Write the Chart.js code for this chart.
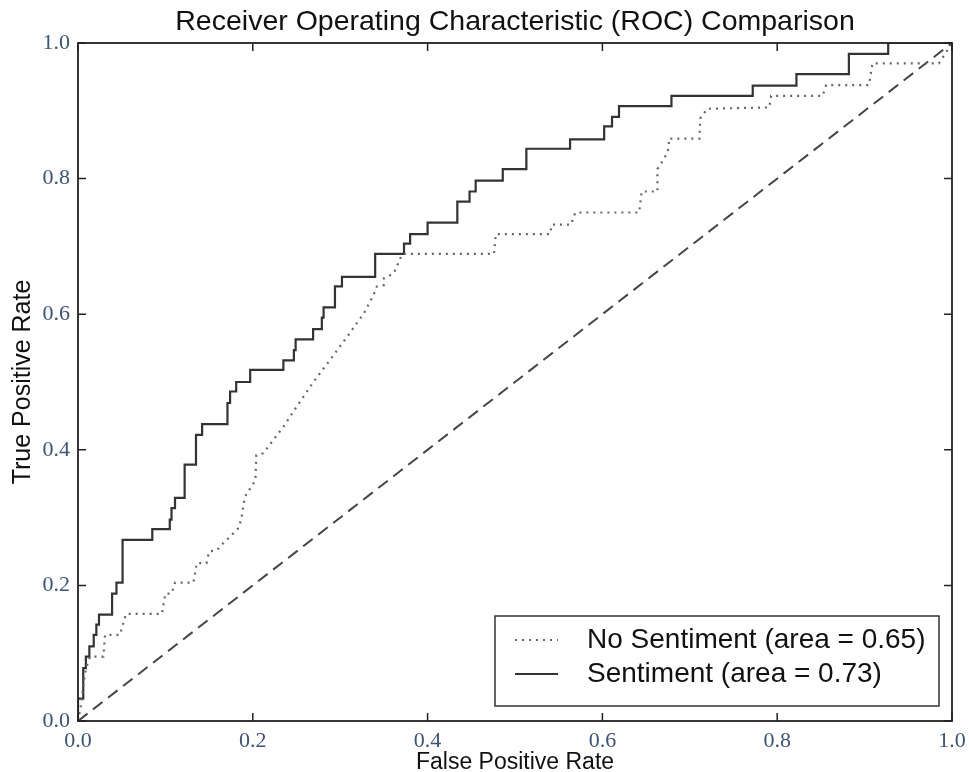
<!DOCTYPE html>
<html>
<head>
<meta charset="utf-8">
<script src="https://cdn.jsdelivr.net/npm/chart.js@4.4.0/dist/chart.umd.min.js"></script>
<style>
  body { margin: 0; background: #fff; }
  #wrap { width: 969px; height: 772px; }
</style>
</head>
<body>
<div id="wrap"><canvas id="rocChart" width="969" height="772"></canvas></div>
<script>
// ROC data
const sentFpr = [0, 0, 0.006, 0.009, 0.013, 0.018, 0.021, 0.024, 0.039, 0.044,
  0.051, 0.085, 0.105, 0.107, 0.111, 0.122, 0.135, 0.142, 0.171, 0.174,
  0.181, 0.197, 0.235, 0.247, 0.249, 0.269, 0.279, 0.281, 0.294, 0.302,
  0.340, 0.373, 0.380, 0.400, 0.434, 0.448, 0.455, 0.486, 0.513, 0.563,
  0.602, 0.611, 0.619, 0.679, 0.772, 0.822, 0.882, 0.927, 1.0];
const sentTpr = [0, 0.033, 0.078, 0.095, 0.110, 0.127, 0.142, 0.157, 0.188, 0.204,
  0.267, 0.283, 0.297, 0.314, 0.329, 0.378, 0.422, 0.438, 0.469, 0.486,
  0.500, 0.518, 0.532, 0.547, 0.563, 0.578, 0.595, 0.610, 0.641, 0.655,
  0.689, 0.704, 0.718, 0.735, 0.766, 0.781, 0.797, 0.814, 0.844, 0.858,
  0.877, 0.891, 0.907, 0.922, 0.937, 0.954, 0.984, 1.0, 1.0];

const noSentFpr = [0, 0.003, 0.006, 0.008, 0.011, 0.014, 0.029, 0.031, 0.048, 0.055,
  0.096, 0.100, 0.107, 0.111, 0.132, 0.136, 0.147, 0.150, 0.159, 0.166,
  0.174, 0.184, 0.187, 0.189, 0.191, 0.197, 0.203, 0.204, 0.212, 0.235,
  0.254, 0.271, 0.291, 0.308, 0.327, 0.338, 0.342, 0.350, 0.350, 0.361,
  0.367, 0.371, 0.476, 0.478, 0.540, 0.542, 0.564, 0.569, 0.642, 0.645,
  0.663, 0.663, 0.671, 0.676, 0.676, 0.711, 0.712, 0.720, 0.791, 0.793,
  0.852, 0.856, 0.905, 0.909, 0.985, 1.0];
const noSentTpr = [0, 0.02, 0.05, 0.07, 0.085, 0.095, 0.095, 0.127, 0.127, 0.158,
  0.158, 0.188, 0.188, 0.204, 0.204, 0.233, 0.233, 0.25, 0.252, 0.262,
  0.272, 0.285, 0.299, 0.316, 0.331, 0.343, 0.355, 0.392, 0.395, 0.434,
  0.471, 0.503, 0.537, 0.567, 0.601, 0.628, 0.641, 0.643, 0.653, 0.660,
  0.677, 0.689, 0.689, 0.718, 0.718, 0.732, 0.732, 0.750, 0.750, 0.781,
  0.781, 0.814, 0.830, 0.845, 0.859, 0.859, 0.889, 0.903, 0.905, 0.922,
  0.922, 0.938, 0.938, 0.970, 0.970, 1.0];

const chanceFpr = [0, 1];
const chanceTpr = [0, 1];

const seriesLabels = ['No Sentiment (area = 0.65)', 'Sentiment (area = 0.73)'];
const tickValues = [0, 0.2, 0.4, 0.6, 0.8, 1.0];

function pts(xs, ys) {
  return xs.map((x, i) => ({ x: x, y: ys[i] }));
}

const tickColor = '#3e5473';

// center the title over the plot area, like matplotlib does
const titleOverAxes = {
  id: 'titleOverAxes',
  afterLayout(chart) {
    const t = chart.titleBlock;
    if (!t) return;
    t.left = chart.chartArea.left;
    t.right = chart.chartArea.right;
    t.width = t.right - t.left;
  }
};

// axes box + inward ticks on all four sides
const frame = {
  id: 'frame',
  afterDatasetsDraw(chart) {
    const ctx = chart.ctx;
    const a = chart.chartArea;
    const xs = chart.scales.x, ys = chart.scales.y;
    ctx.save();
    ctx.strokeStyle = '#222';
    ctx.lineWidth = 1.8;
    ctx.strokeRect(a.left, a.top, a.right - a.left, a.bottom - a.top);
    ctx.lineWidth = 1.5;
    ctx.beginPath();
    tickValues.forEach(v => {
      const px = xs.getPixelForValue(v);
      ctx.moveTo(px, a.bottom); ctx.lineTo(px, a.bottom - 8);
      ctx.moveTo(px, a.top); ctx.lineTo(px, a.top + 8);
      const py = ys.getPixelForValue(v);
      ctx.moveTo(a.left, py); ctx.lineTo(a.left + 8, py);
      ctx.moveTo(a.right, py); ctx.lineTo(a.right - 8, py);
    });
    ctx.stroke();
    ctx.restore();
  }
};

// boxed legend in the lower right corner
const boxLegend = {
  id: 'boxLegend',
  afterDraw(chart) {
    const ctx = chart.ctx;
    const a = chart.chartArea;
    const items = chart.data.datasets.filter(d => d.label);
    const left = a.right - 457, top = a.bottom - 105;
    ctx.save();
    ctx.fillStyle = '#fff';
    ctx.fillRect(left, top, 444, 90);
    ctx.strokeStyle = '#333';
    ctx.lineWidth = 1.5;
    ctx.strokeRect(left, top, 444, 90);
    ctx.font = '28px "Liberation Sans", Arial, sans-serif';
    ctx.textBaseline = 'middle';
    items.forEach((d, i) => {
      const cy = top + 24 + i * 34;
      ctx.strokeStyle = d.borderColor;
      ctx.lineWidth = d.borderWidth;
      ctx.setLineDash(d.borderDash || []);
      ctx.beginPath();
      ctx.moveTo(left + 20, cy);
      ctx.lineTo(left + 63, cy);
      ctx.stroke();
      ctx.setLineDash([]);
      ctx.fillStyle = '#111';
      ctx.fillText(d.label, left + 92, cy);
    });
    ctx.restore();
  }
};

const data = {
  datasets: [
    {
      label: seriesLabels[0],
      data: pts(noSentFpr, noSentTpr),
      borderColor: '#666',
      borderWidth: 2.2,
      borderDash: [2, 5],
      pointRadius: 0,
      fill: false
    },
    {
      label: seriesLabels[1],
      data: pts(sentFpr, sentTpr),
      borderColor: '#333',
      borderWidth: 2.2,
      stepped: 'before',
      pointRadius: 0,
      fill: false
    },
    {
      data: pts(chanceFpr, chanceTpr),
      borderColor: '#444',
      borderWidth: 2,
      borderDash: [12, 7],
      pointRadius: 0,
      fill: false
    }
  ]
};

const config = {
  type: 'line',
  data,
  options: {
    responsive: false,
    devicePixelRatio: 1,
    animation: false,
    layout: { padding: { right: 17, left: 0, bottom: 0, top: 0 } },
    plugins: {
      legend: { display: false },
      tooltip: { enabled: false },
      title: {
        display: true,
        text: 'Receiver Operating Characteristic (ROC) Comparison',
        font: { family: '"Liberation Sans", Arial, sans-serif', size: 28.5, weight: 'normal', lineHeight: 1.2 },
        color: '#111',
        padding: { top: 5, bottom: 3.8 }
      }
    },
    scales: {
      x: {
        type: 'linear',
        min: 0,
        max: 1,
        afterFit: s => { s.height = 51; s.paddingLeft = 0; s.paddingRight = 0; },
        afterBuildTicks: s => { s.ticks = tickValues.map(v => ({ value: v })); },
        grid: { display: false, drawTicks: false },
        border: { display: false },
        ticks: {
          callback: v => v.toFixed(1),
          font: { family: '"Liberation Serif", "Times New Roman", serif', size: 22 },
          color: tickColor,
          padding: 7,
          maxRotation: 0,
          autoSkip: false
        },
        title: {
          display: true,
          text: 'False Positive Rate',
          font: { family: '"Liberation Sans", Arial, sans-serif', size: 23, lineHeight: 1 },
          color: '#111',
          padding: { top: 0, bottom: -2 }
        }
      },
      y: {
        type: 'linear',
        min: 0,
        max: 1,
        afterFit: s => { s.width = 78; s.paddingTop = 0; s.paddingBottom = 0; },
        afterBuildTicks: s => { s.ticks = tickValues.map(v => ({ value: v })); },
        grid: { display: false, drawTicks: false },
        border: { display: false },
        ticks: {
          callback: v => v.toFixed(1),
          font: { family: '"Liberation Serif", "Times New Roman", serif', size: 22 },
          color: tickColor,
          padding: 8,
          autoSkip: false
        },
        title: {
          display: true,
          text: 'True Positive Rate',
          font: { family: '"Liberation Sans", Arial, sans-serif', size: 25, lineHeight: 1.2 },
          color: '#111',
          padding: { top: 8, bottom: 0 }
        }
      }
    }
  },
  plugins: [titleOverAxes, frame, boxLegend]
};

const rocChart = new Chart(document.getElementById('rocChart'), config);
</script>
</body>
</html>
